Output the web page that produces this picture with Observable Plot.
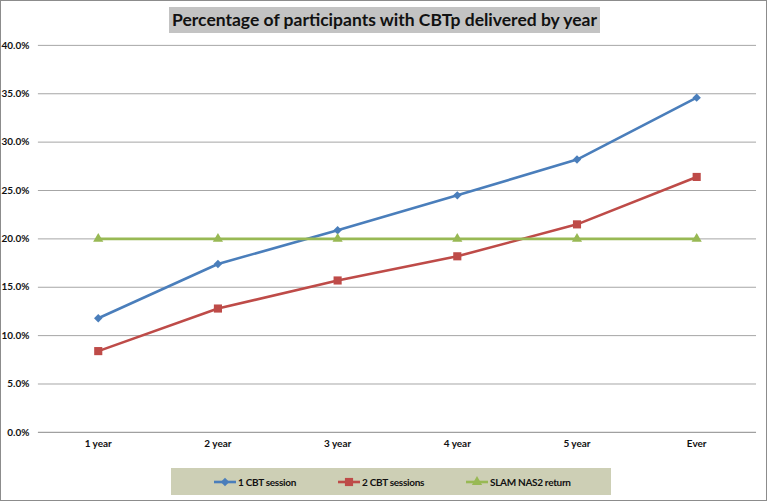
<!DOCTYPE html>
<html>
<head>
<meta charset="utf-8">
<script src="https://cdn.jsdelivr.net/npm/d3@7"></script>
<script src="https://cdn.jsdelivr.net/npm/@observablehq/plot@0.6"></script>
<style>
  html, body { margin: 0; padding: 0; background: #fff; }
  #wrap { position: relative; width: 767px; height: 501px; box-sizing: border-box; border: 1.5px solid #8c8c8c; overflow: hidden; background: #fff; font-family: Lato, "Open Sans", sans-serif; }
  #title { position: absolute; left: 168px; top: 6px; width: 431px; height: 26px; background: #c3c3c3; font-weight: 700; font-size: 17.5px; line-height: 26px; text-align: center; color: #111; white-space: nowrap; }
  #chart { position: absolute; left: 0; top: 0; }
  #legend { position: absolute; left: 170px; top: 467px; width: 440px; height: 27px; background: #cdcfb5; font-weight: 700; font-size: 10px; letter-spacing: -0.3px; color: #111; }
  .item { position: absolute; top: 0; height: 27px; display: flex; align-items: center; white-space: nowrap; }
  .item svg { margin-right: 2px; }
</style>
</head>
<body>
<div id="wrap">
  <div id="chart"></div>
  <div id="title">Percentage of participants with CBTp delivered by year</div>
  <div id="legend"></div>
</div>
<script>
const categories = ["1 year", "2 year", "3 year", "4 year", "5 year", "Ever"];
const seriesNames = ["1 CBT session", "2 CBT sessions", "SLAM NAS2 return"];
const oneSession = [11.8, 17.4, 20.9, 24.5, 28.2, 34.6];
const twoSessions = [8.4, 12.8, 15.7, 18.2, 21.5, 26.4];
const nas2Return = [20, 20, 20, 20, 20, 20];
const yTicks = [0, 5, 10, 15, 20, 25, 30, 35, 40];

const colors = ["#4a7ebb", "#be4b48", "#98b954"];
const symbols = ["diamond2", "square", "triangle"];
const radii = [3.8, 4.6, 3.8];

const allSeries = [oneSession, twoSessions, nas2Return];
const data = [];
allSeries.forEach((vals, s) => vals.forEach((v, i) => data.push({series: seriesNames[s], cat: categories[i], value: v})));

const marks = [
  Plot.ruleY(yTicks.filter(t => t > 0), {stroke: "#a6a6a6", strokeWidth: 1}),
  Plot.ruleY([0], {stroke: "#a0a0a0", strokeWidth: 1.2}),
  Plot.axisY(yTicks, {tickSize: 0, tickPadding: 9, tickFormat: d => d.toFixed(1) + "%", fontWeight: "bold", fontSize: 10, fill: "#111", label: null}),
  Plot.axisX({tickSize: 0, tickPadding: 8, fontWeight: "bold", fontSize: 10, fill: "#111", label: null})
];
seriesNames.forEach((name, s) => {
  const d = data.filter(r => r.series === name);
  marks.push(Plot.line(d, {x: "cat", y: "value", stroke: colors[s], strokeWidth: 2.6}));
  marks.push(Plot.dot(d, {x: "cat", y: "value", symbol: () => symbols[s], fill: colors[s], stroke: "none", r: radii[s]}));
});

const chart = Plot.plot({
  width: 767,
  height: 455,
  marginTop: 44,
  marginBottom: 23,
  marginLeft: 37,
  marginRight: 10,
  style: {fontFamily: "Lato, 'Open Sans', sans-serif", background: "transparent"},
  x: {type: "point", domain: categories, padding: 0.5},
  y: {domain: [0, 40]},
  symbol: {type: "identity"},
  marks
});
document.getElementById("chart").appendChild(chart);

const legend = document.getElementById("legend");
const itemLefts = [43, 167, 295];
seriesNames.forEach((name, s) => {
  const div = document.createElement("div");
  div.className = "item";
  div.style.left = itemLefts[s] + "px";
  const sw = d3.create("svg").attr("width", 22).attr("height", 12);
  sw.append("line").attr("x1", 0).attr("x2", 22).attr("y1", 6).attr("y2", 6).attr("stroke", colors[s]).attr("stroke-width", 2.6);
  sw.append("path").attr("transform", "translate(11,6)")
    .attr("d", d3.symbol(s === 0 ? d3.symbolDiamond2 : s === 1 ? d3.symbolSquare : d3.symbolTriangle, Math.PI * radii[s] * radii[s])())
    .attr("fill", colors[s]);
  div.appendChild(sw.node());
  const span = document.createElement("span");
  span.textContent = name;
  div.appendChild(span);
  legend.appendChild(div);
});
</script>
</body>
</html>
